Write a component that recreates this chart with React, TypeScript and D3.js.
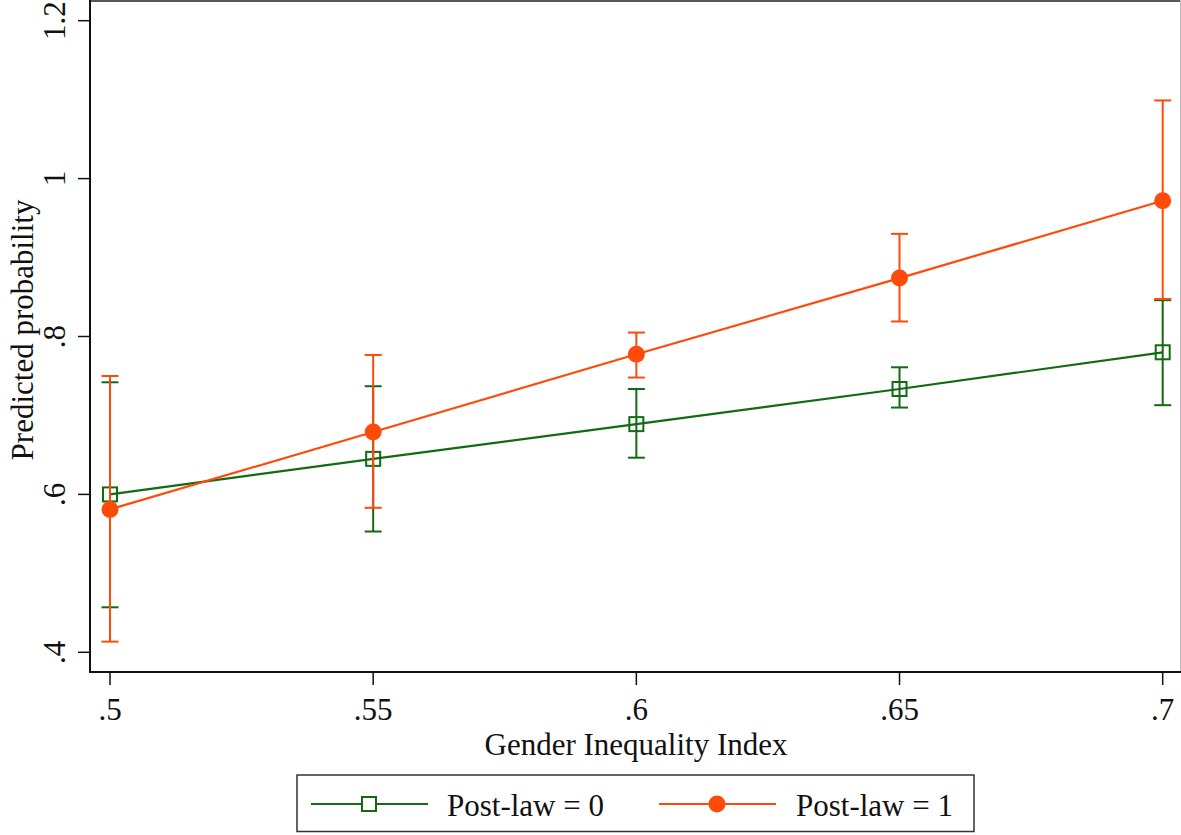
import React from "react";
import * as d3 from "d3";

const xValues = [0.5, 0.55, 0.6, 0.65, 0.7];
const xTickLabels = [".5", ".55", ".6", ".65", ".7"];
const yTicks = [0.4, 0.6, 0.8, 1.0, 1.2];
const yTickLabels = [".4", ".6", ".8", "1", "1.2"];

const postLaw0 = [0.600, 0.645, 0.689, 0.7335, 0.780];
const postLaw0Lo = [0.457, 0.553, 0.6465, 0.710, 0.713];
const postLaw0Hi = [0.742, 0.737, 0.7335, 0.761, 0.846];

const postLaw1 = [0.581, 0.679, 0.7775, 0.874, 0.972];
const postLaw1Lo = [0.4135, 0.583, 0.748, 0.819, 0.8475];
const postLaw1Hi = [0.750, 0.7766, 0.805, 0.930, 1.099];

const seriesNames = ["Post-law = 0", "Post-law = 1"];

const GREEN = "#126a12";
const ORANGE = "#ff4a0a";
const FONT = "'Liberation Serif', 'Times New Roman', serif";
const FS = 31;

export default function App() {
  const W = 1181, H = 835;
  const x = d3.scaleLinear().domain([0.5, 0.7]).range([110, 1162.7]);
  const y = d3.scaleLinear().domain([0.4, 1.2]).range([652.3, 20.7]);
  const line = d3.line<number>().x((_, i) => x(xValues[i])).y((d) => y(d));

  const series = [
    { name: seriesNames[0], vals: postLaw0, lo: postLaw0Lo, hi: postLaw0Hi, color: GREEN, marker: "square" },
    { name: seriesNames[1], vals: postLaw1, lo: postLaw1Lo, hi: postLaw1Hi, color: ORANGE, marker: "circle" },
  ];

  const axisLeft = 90, axisBottom = 672;
  const cap = 8.5;

  return (
    <svg width={W} height={H} style={{ position: "absolute", left: 0, top: 0, background: "#fff" }} fontFamily={FONT}>
      <rect x={0} y={0} width={W} height={H} fill="#fff" />
      {/* frame */}
      <line x1={axisLeft} y1={1} x2={W} y2={1} stroke="#222" strokeWidth={1.5} />
      <line x1={W - 0.5} y1={0} x2={W - 0.5} y2={axisBottom} stroke="#bbb" strokeWidth={1} />
      <line x1={axisLeft} y1={0} x2={axisLeft} y2={axisBottom + 1} stroke="#111" strokeWidth={2} />
      <line x1={axisLeft - 1} y1={axisBottom} x2={W} y2={axisBottom} stroke="#111" strokeWidth={2} />

      {/* y ticks */}
      {yTicks.map((t, i) => (
        <g key={"y" + i}>
          <line x1={78} x2={axisLeft} y1={y(t)} y2={y(t)} stroke="#111" strokeWidth={1.5} />
          <text transform={`translate(65,${y(t)}) rotate(-90)`} textAnchor="middle" fontSize={FS} fill="#111">
            {yTickLabels[i]}
          </text>
        </g>
      ))}
      {/* x ticks */}
      {xValues.map((t, i) => (
        <g key={"x" + i}>
          <line x1={x(t)} x2={x(t)} y1={axisBottom} y2={685} stroke="#111" strokeWidth={1.5} />
          <text x={x(t)} y={720} textAnchor="middle" fontSize={FS} fill="#111">
            {xTickLabels[i]}
          </text>
        </g>
      ))}

      <text x={636} y={755} textAnchor="middle" fontSize={FS} fill="#111">Gender Inequality Index</text>
      <text transform={`translate(33,330) rotate(-90)`} textAnchor="middle" fontSize={FS} fill="#111">
        Predicted probability
      </text>

      {/* series */}
      {series.map((s, si) => (
        <g key={"s" + si}>
          {s.vals.map((v, i) => (
            <g key={"e" + i} stroke={s.color} strokeWidth={2}>
              <line x1={x(xValues[i])} x2={x(xValues[i])} y1={y(s.lo[i])} y2={y(s.hi[i])} />
              <line x1={x(xValues[i]) - cap} x2={x(xValues[i]) + cap} y1={y(s.lo[i])} y2={y(s.lo[i])} />
              <line x1={x(xValues[i]) - cap} x2={x(xValues[i]) + cap} y1={y(s.hi[i])} y2={y(s.hi[i])} />
            </g>
          ))}
          <path d={line(s.vals) || ""} fill="none" stroke={s.color} strokeWidth={2.2} />
          {s.vals.map((v, i) =>
            s.marker === "square" ? (
              <rect key={"m" + i} x={x(xValues[i]) - 7} y={y(v) - 7} width={14} height={14} fill="none" stroke={s.color} strokeWidth={2} />
            ) : (
              <circle key={"m" + i} cx={x(xValues[i])} cy={y(v)} r={8.5} fill={s.color} />
            )
          )}
        </g>
      ))}

      {/* legend */}
      <rect x={297} y={775} width={677} height={56.5} fill="#fff" stroke="#333" strokeWidth={1.5} />
      <line x1={311} x2={428} y1={804} y2={804} stroke={GREEN} strokeWidth={2.2} />
      <rect x={369 - 7} y={804 - 7} width={14} height={14} fill="#fff" stroke={GREEN} strokeWidth={2} />
      <text x={447} y={816} fontSize={FS} fill="#111">{seriesNames[0]}</text>
      <line x1={659} x2={776} y1={804} y2={804} stroke={ORANGE} strokeWidth={2.2} />
      <circle cx={717} cy={804} r={8.5} fill={ORANGE} />
      <text x={796} y={816} fontSize={FS} fill="#111">{seriesNames[1]}</text>
    </svg>
  );
}
